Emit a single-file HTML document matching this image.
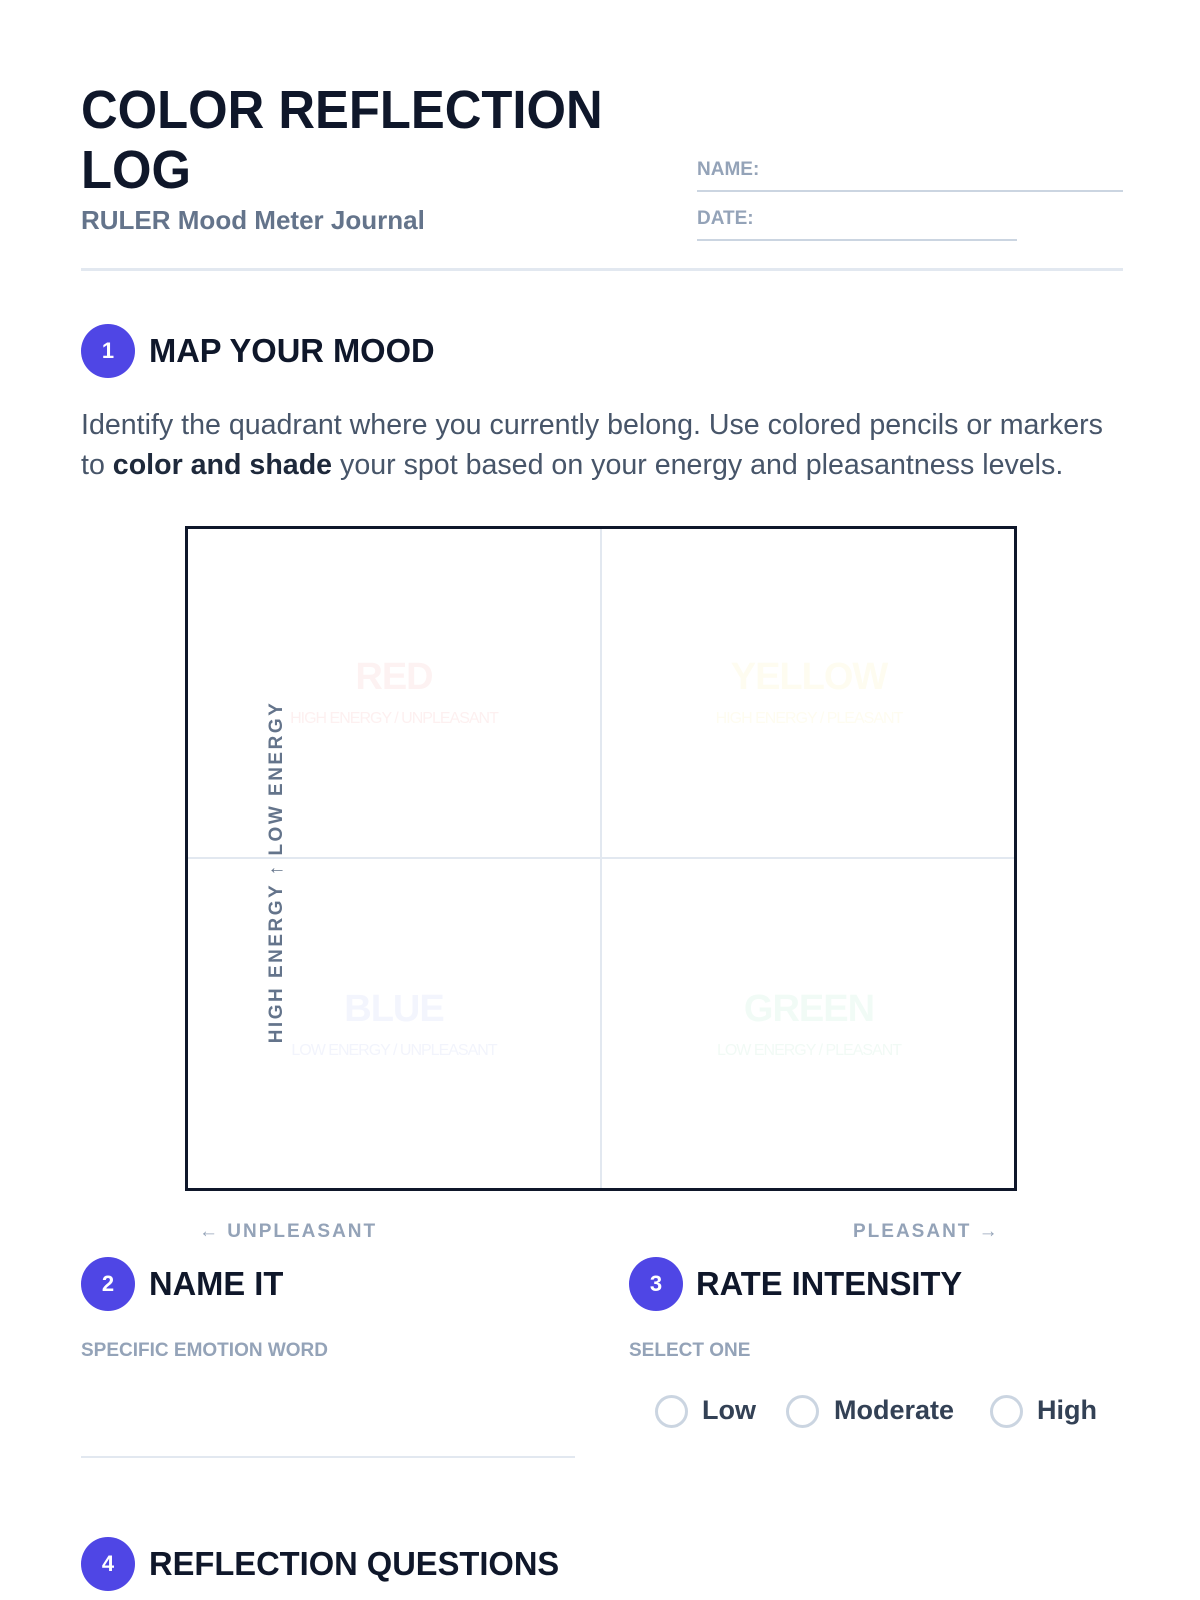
<!DOCTYPE html>
<html><head><meta charset="utf-8"><style>
*{margin:0;padding:0;box-sizing:border-box}
body{width:1200px;height:1600px;background:#fff;position:relative;overflow:hidden;font-family:"Liberation Sans",sans-serif}
.a{position:absolute;white-space:nowrap}
.t{font-weight:900;color:#0f172a;font-size:54px;line-height:60px;letter-spacing:0px;transform:scaleX(0.94);transform-origin:left top}
.h{font-weight:900;color:#0f172a;font-size:33px;letter-spacing:0px;transform:scaleX(0.99);transform-origin:left center;line-height:40px}
.c{position:absolute;width:54px;height:54px;border-radius:50%;background:#4f46e5;color:#fff;font-size:22px;font-weight:700;text-align:center;line-height:54px}
.lbl{color:#94a3b8;font-weight:700;font-size:19px}
.q{font-weight:900;font-size:38px;text-align:center;width:360px;letter-spacing:-1px}
.qs{font-size:16px;text-align:center;width:360px;letter-spacing:-1px}
.r{position:absolute;width:33px;height:33px;border:3px solid #cbd5e1;border-radius:50%}
.rl{font-size:27px;font-weight:700;color:#334155}
</style></head><body>
<div class="a t" style="left:81px;top:80px">COLOR REFLECTION<br>LOG</div>
<div class="a" style="left:81px;top:205px;font-size:26px;font-weight:700;color:#64748b">RULER Mood Meter Journal</div>
<div class="a lbl" style="left:697px;top:159px">NAME:</div>
<div class="a" style="left:697px;top:190px;width:426px;border-top:2px solid #cbd5e1"></div>
<div class="a lbl" style="left:697px;top:208px">DATE:</div>
<div class="a" style="left:697px;top:239px;width:320px;border-top:2px solid #cbd5e1"></div>
<div class="a" style="left:81px;top:268px;width:1042px;border-top:3px solid #e2e8f0"></div>

<div class="c" style="left:81px;top:324px">1</div>
<div class="a h" style="left:149px;top:331px">MAP YOUR MOOD</div>
<div class="a" style="left:81px;top:405px;font-size:28.6px;line-height:40px;color:#475569">Identify the quadrant where you currently belong. Use colored pencils or markers<br>to <b style="color:#1e293b">color and shade</b> your spot based on your energy and pleasantness levels.</div>

<div class="a" style="left:185px;top:526px;width:832px;height:665px;border:3px solid #0f172a"></div>
<div class="a" style="left:600px;top:529px;width:2px;height:659px;background:#e2e8f0"></div>
<div class="a" style="left:188px;top:857px;width:826px;height:2px;background:#e2e8f0"></div>
<div class="a q" style="left:214px;top:656px;color:#fdf2f2">RED</div>
<div class="a qs" style="left:214px;top:710px;color:#fdf0f0">HIGH ENERGY / UNPLEASANT</div>
<div class="a q" style="left:629px;top:656px;color:#fefcf0">YELLOW</div>
<div class="a qs" style="left:629px;top:710px;color:#fefcf0">HIGH ENERGY / PLEASANT</div>
<div class="a q" style="left:214px;top:988px;color:#f3f5fd">BLUE</div>
<div class="a qs" style="left:214px;top:1042px;color:#f2f4fc">LOW ENERGY / UNPLEASANT</div>
<div class="a q" style="left:629px;top:988px;color:#f1fbf6">GREEN</div>
<div class="a qs" style="left:629px;top:1042px;color:#f1faf5">LOW ENERGY / PLEASANT</div>
<div class="a" style="left:277px;top:872px;transform:translate(-50%,-50%) rotate(-90deg);font-size:19px;font-weight:900;letter-spacing:2.5px;color:#64748b">HIGH ENERGY ↑ LOW ENERGY</div>

<div class="a" style="left:199px;top:1221px;font-size:19px;font-weight:700;letter-spacing:2px;color:#94a3b8">← UNPLEASANT</div>
<div class="a" style="left:853px;top:1221px;font-size:19px;font-weight:700;letter-spacing:2px;color:#94a3b8">PLEASANT →</div>

<div class="c" style="left:81px;top:1257px">2</div>
<div class="a h" style="left:149px;top:1264px">NAME IT</div>
<div class="c" style="left:629px;top:1257px">3</div>
<div class="a h" style="left:696px;top:1264px">RATE INTENSITY</div>
<div class="a lbl" style="left:81px;top:1340px">SPECIFIC EMOTION WORD</div>
<div class="a lbl" style="left:629px;top:1340px">SELECT ONE</div>
<div class="a" style="left:81px;top:1456px;width:494px;border-top:2px solid #e2e8f0"></div>

<div class="r" style="left:655px;top:1395px"></div>
<div class="a rl" style="left:702px;top:1395px">Low</div>
<div class="r" style="left:786px;top:1395px"></div>
<div class="a rl" style="left:834px;top:1395px">Moderate</div>
<div class="r" style="left:990px;top:1395px"></div>
<div class="a rl" style="left:1037px;top:1395px">High</div>

<div class="c" style="left:81px;top:1537px">4</div>
<div class="a h" style="left:149px;top:1544px">REFLECTION QUESTIONS</div>
</body></html>
